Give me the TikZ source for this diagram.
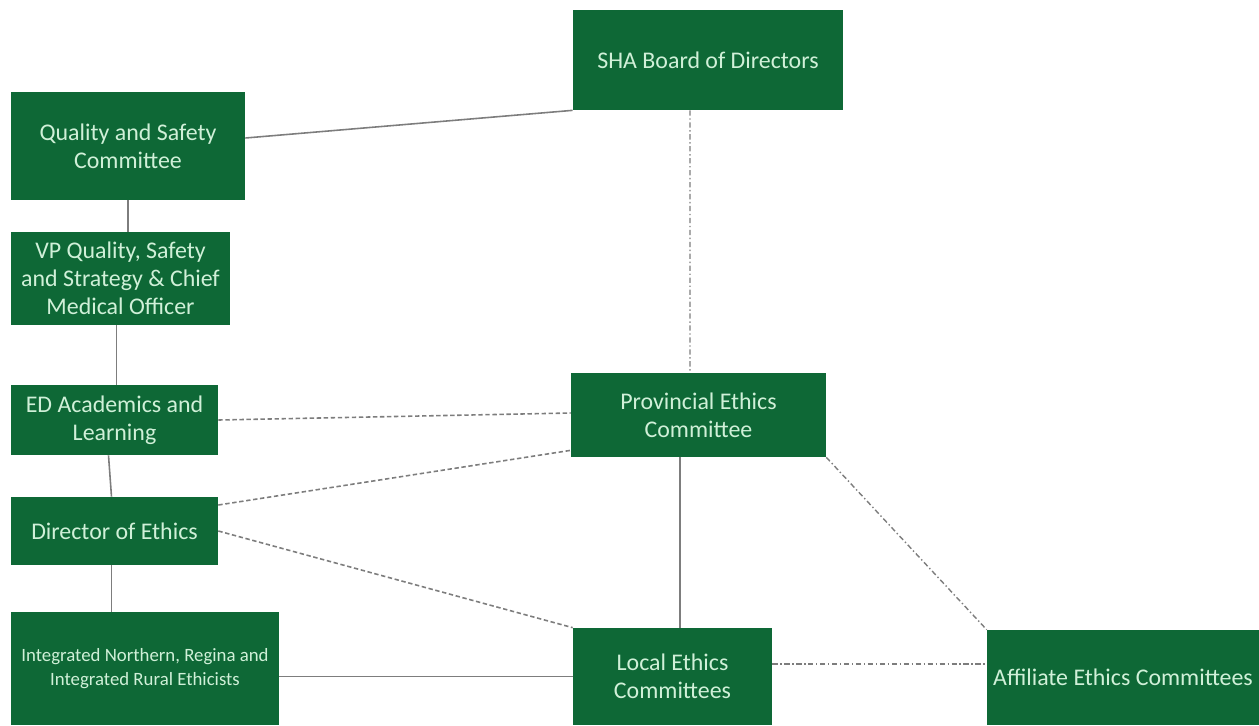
\documentclass[tikz,border=0pt]{standalone}
\usepackage{fontspec}
\setmainfont{Carlito}
\usetikzlibrary{calc}
\definecolor{boxgreen}{RGB}{14,104,54}
\definecolor{boxtext}{RGB}{208,240,216}
\definecolor{linkgray}{RGB}{125,125,125}
\begin{document}
\begin{tikzpicture}[x=0.02cm,y=-0.02cm,
  orgbox/.style={fill=boxgreen,text=boxtext,align=center,inner sep=1pt,
    font=\fontsize{13.6}{16}\selectfont},
  plain link/.style={draw=linkgray,line width=0.9pt},
  dash link/.style={draw=linkgray,line width=0.9pt,dash pattern=on 2.5pt off 1.5pt},
  dot link/.style={draw=linkgray,line width=0.8pt,dash pattern=on 3pt off 1.5pt on 0.8pt off 1.5pt}]
\useasboundingbox (0,0) rectangle (1259,725);
% boxes
\node[orgbox,minimum width=5.4cm,minimum height=2cm] (sha) at (708,60) {SHA Board of Directors};
\node[orgbox,minimum width=4.68cm,minimum height=2.16cm] (qsc) at (128,146) {Quality and Safety\\Committee};
\node[orgbox,minimum width=4.38cm,minimum height=1.86cm] (vp) at (120.5,278.5) {VP Quality, Safety\\and Strategy \& Chief\\Medical Officer};
\node[orgbox,minimum width=4.14cm,minimum height=1.4cm] (ed) at (114.5,420) {ED Academics and\\Learning};
\node[orgbox,minimum width=4.14cm,minimum height=1.36cm] (dir) at (114.5,531) {Director of Ethics};
\node[orgbox,minimum width=5.36cm,minimum height=2.26cm,font=\fontsize{10.7}{13.5}\selectfont] (intg) at (145,668.5) {Integrated Northern, Regina and\\Integrated Rural Ethicists};
\node[orgbox,minimum width=5.1cm,minimum height=1.68cm] (prov) at (698.5,415) {Provincial Ethics\\Committee};
\node[orgbox,minimum width=3.98cm,minimum height=1.94cm] (local) at (672.5,676.5) {Local Ethics\\Committees};
\node[orgbox,minimum width=5.44cm,minimum height=1.9cm] (aff) at (1123,677.5) {Affiliate Ethics Committees};
% solid lines
\draw[plain link] ([yshift=0.16cm]qsc.east) -- (sha.south west);
\draw[plain link] (qsc.south) -- (qsc.south |- vp.north);
\draw[plain link] ([xshift=-0.08cm]vp.south) -- ([xshift=-0.08cm]vp.south |- ed.north);
\draw[plain link] ([xshift=-0.12cm]ed.south) -- ([xshift=-0.06cm]dir.north);
\draw[plain link] ([xshift=-0.06cm]dir.south) -- ([xshift=-0.06cm]dir.south |- intg.north);
\draw[plain link] (intg.east |- local.west) -- (local.west);
\draw[plain link] ([xshift=0.15cm]local.north) -- ([xshift=0.15cm]local.north |- prov.south);
% dashed lines
\draw[dash link] (ed.east) -- ([yshift=0.04cm]prov.west);
\draw[dash link] ([yshift=0.52cm]dir.east) -- ([yshift=0.14cm]prov.south west);
\draw[dash link] (dir.east) -- (local.north west);
% dotted lines
\draw[dot link] ([xshift=-0.36cm]sha.south) -- ([xshift=-0.17cm]prov.north);
\draw[dot link] (prov.south east) -- (aff.north west);
\draw[dot link] ([yshift=0.25cm]local.east) -- ([yshift=0.25cm]local.east -| aff.west);
\end{tikzpicture}
\end{document}
